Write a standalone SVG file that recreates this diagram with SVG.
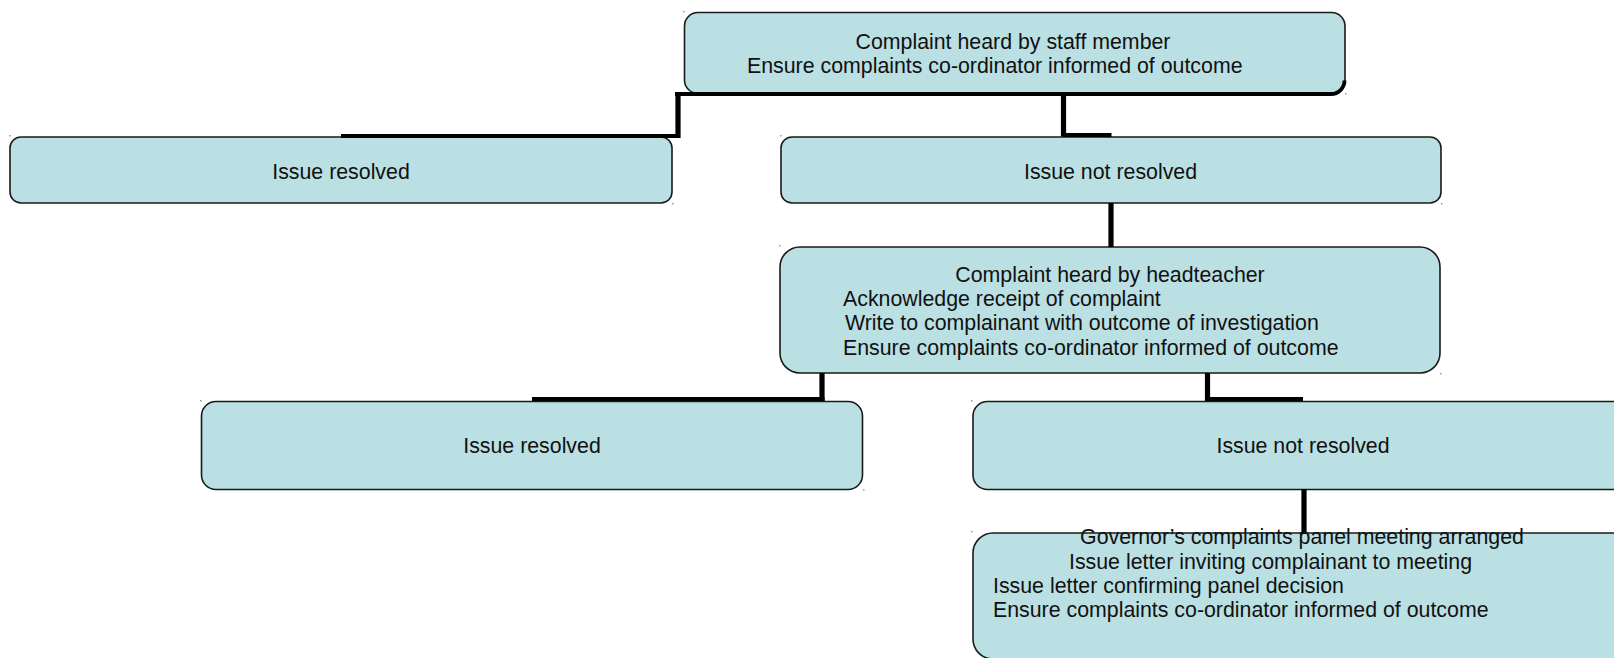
<svg xmlns="http://www.w3.org/2000/svg" width="1614" height="658" viewBox="0 0 1614 658">
<style>
.box{fill:#bae0e3;stroke:#1a1a1a;stroke-width:1.6}
.t{font-family:"Liberation Sans",Arial,sans-serif;font-size:21.33px;fill:#111}
.c{text-anchor:middle}
.v{stroke:#000;stroke-width:5.2;fill:none}
.h{stroke:#000;stroke-width:3.8;fill:none}
.dot{fill:#999}
</style>
<rect width="1614" height="658" fill="#fff"/>
<g id="n1">
<rect class="box" x="684.5" y="12.5" width="660.5" height="81" rx="13.5"/>
<text class="t c" x="1013" y="49">Complaint heard by staff member</text>
<text class="t" x="747" y="72.5">Ensure complaints co-ordinator informed of outcome</text>
</g>
<g id="n2">
<rect class="box" x="10" y="137" width="662" height="66" rx="11"/>
<text class="t c" x="341" y="178.5">Issue resolved</text>
</g>
<g id="n3">
<rect class="box" x="781" y="137" width="660" height="66" rx="11"/>
<text class="t c" x="1110.5" y="178.5">Issue not resolved</text>
</g>
<g id="n4">
<rect class="box" x="780" y="247" width="660" height="126" rx="20"/>
<text class="t c" x="1110" y="282">Complaint heard by headteacher</text>
<text class="t" x="843" y="305.5">Acknowledge receipt of complaint</text>
<text class="t" x="845" y="330">Write to complainant with outcome of investigation</text>
<text class="t" x="843" y="354.5">Ensure complaints co-ordinator informed of outcome</text>
</g>
<g id="n5">
<rect class="box" x="201.5" y="401.5" width="661" height="88" rx="14.5"/>
<text class="t c" x="532" y="453">Issue resolved</text>
</g>
<g id="n6">
<rect class="box" x="973" y="401.5" width="660" height="88" rx="14.5"/>
<text class="t c" x="1303" y="453">Issue not resolved</text>
</g>
<g id="n7">
<rect class="box" x="973" y="533" width="660" height="126" rx="20"/>
</g>
<g id="connectors">
<path class="h" d="M675,94 H1331 A13.5,13.5 0 0 0 1344.5,80.5"/>
<line class="v" x1="678" y1="92" x2="678" y2="138"/>
<line class="h" x1="341" y1="136" x2="680" y2="136"/>
<line class="v" x1="1063.5" y1="94" x2="1063.5" y2="136.5"/>
<line class="h" x1="1063" y1="135" x2="1111.5" y2="135"/>
<line class="v" x1="1111" y1="203" x2="1111" y2="247"/>
<line class="v" x1="822" y1="373" x2="822" y2="401"/>
<line class="h" x1="532" y1="399" x2="824.5" y2="399"/>
<line class="v" x1="1207.5" y1="373" x2="1207.5" y2="401"/>
<line class="h" x1="1205" y1="399" x2="1303" y2="399"/>
<line class="v" x1="1304" y1="489" x2="1304" y2="534"/>
</g>
<g id="n7-text">
<text class="t c" x="1302" y="543.5">Governor’s complaints panel meeting arranged</text>
<text class="t" x="1069" y="569">Issue letter inviting complainant to meeting</text>
<text class="t" x="993" y="593">Issue letter confirming panel decision</text>
<text class="t" x="993" y="617">Ensure complaints co-ordinator informed of outcome</text>
</g>
<g id="marks">
<rect class="dot" x="683" y="11" width="1.5" height="1.5"/><rect class="dot" x="1345" y="93" width="1.5" height="1.5"/>
<rect class="dot" x="9" y="135" width="1.5" height="1.5"/><rect class="dot" x="672" y="203" width="1.5" height="1.5"/>
<rect class="dot" x="780" y="135" width="1.5" height="1.5"/><rect class="dot" x="1441" y="203" width="1.5" height="1.5"/>
<rect class="dot" x="779" y="245" width="1.5" height="1.5"/><rect class="dot" x="1440" y="373" width="1.5" height="1.5"/>
<rect class="dot" x="200" y="400" width="1.5" height="1.5"/><rect class="dot" x="863" y="489" width="1.5" height="1.5"/>
<rect class="dot" x="971" y="400" width="1.5" height="1.5"/>
<rect class="dot" x="971" y="531" width="1.5" height="1.5"/>
</g>
</svg>
